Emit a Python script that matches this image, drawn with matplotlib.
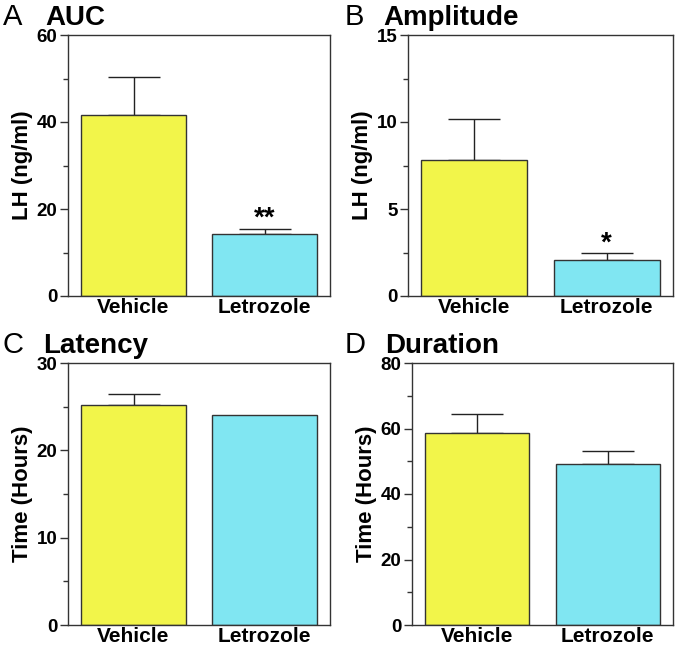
import matplotlib
matplotlib.use("Agg")
import matplotlib.pyplot as plt
from matplotlib.ticker import MultipleLocator

plt.rcParams['font.family'] = ['Liberation Sans', 'DejaVu Sans']

groups = ['Vehicle', 'Letrozole']
colors = ['#f2f54a', '#80e6f2']

auc_mean = [41.6, 14.2]
auc_err = [8.7, 1.3]
amp_mean = [7.8, 2.05]
amp_err = [2.35, 0.4]
lat_mean = [25.2, 24.0]
lat_err = [1.2, 0.0]
dur_mean = [58.7, 49.2]
dur_err = [5.6, 4.0]

# letter, title, means, errs, ymax, step, ylabel, stars, axes box (px), letter x, title x
panels = [
    ('A', 'AUC', auc_mean, auc_err, 60, 20, 'LH (ng/ml)', ['', '**'], (68, 35, 330, 296), 3, 45),
    ('B', 'Amplitude', amp_mean, amp_err, 15, 5, 'LH (ng/ml)', ['', '*'], (408, 35, 673, 296), 345, 383),
    ('C', 'Latency', lat_mean, lat_err, 30, 10, 'Time (Hours)', ['', ''], (68, 363, 330, 625), 3, 43),
    ('D', 'Duration', dur_mean, dur_err, 80, 20, 'Time (Hours)', ['', ''], (412, 363, 673, 625), 345, 385),
]

W, H = 677, 648
fig = plt.figure(figsize=(W / 100, H / 100), dpi=100)

for letter, title, means, errs, ymax, step, ylabel, stars, box, lx, tx in panels:
    x0, y0, x1, y1 = box
    ax = fig.add_axes([x0 / W, 1 - y1 / H, (x1 - x0) / W, (y1 - y0) / H])
    x = [0, 1]
    ax.bar(x, means, width=0.8, color=colors, edgecolor='#333333', linewidth=1.0, zorder=2)
    for xi, m, e in zip(x, means, errs):
        if e > 0:
            ax.errorbar(xi, m, yerr=[[0], [e]], color='#222222', elinewidth=1.0,
                        capsize=19, capthick=1.0, zorder=1)
    for xi, m, e, s in zip(x, means, errs, stars):
        if s:
            ax.text(xi, m + e - ymax * 0.012, s, ha='center', va='bottom',
                    fontsize=20, fontweight='bold')
    ax.set_xlim(-0.5, 1.5)
    ax.set_ylim(0, ymax)
    ax.yaxis.set_major_locator(MultipleLocator(step))
    ax.yaxis.set_minor_locator(MultipleLocator(step / 2))
    ax.set_xticks(x)
    ax.set_xticklabels(groups, fontsize=15, fontweight='bold')
    ax.tick_params(axis='x', length=0, pad=1.5)
    ax.tick_params(axis='y', which='major', length=6, width=1, labelsize=13.5, pad=1.5,
                   color='#333333')
    ax.tick_params(axis='y', which='minor', length=3.5, width=1, color='#333333')
    for lab in ax.get_yticklabels():
        lab.set_fontweight('bold')
    ax.set_ylabel(ylabel, fontsize=16, fontweight='bold', labelpad=3)
    for sp in ax.spines.values():
        sp.set_linewidth(1.0)
        sp.set_color('#333333')
    fig.text(lx / W, 1 - (y0 - 10) / H, letter, fontsize=21, ha='left', va='baseline')
    fig.text(tx / W, 1 - (y0 - 10) / H, title, fontsize=20, fontweight='bold',
             ha='left', va='baseline')

fig.savefig('out.png', dpi=100)
